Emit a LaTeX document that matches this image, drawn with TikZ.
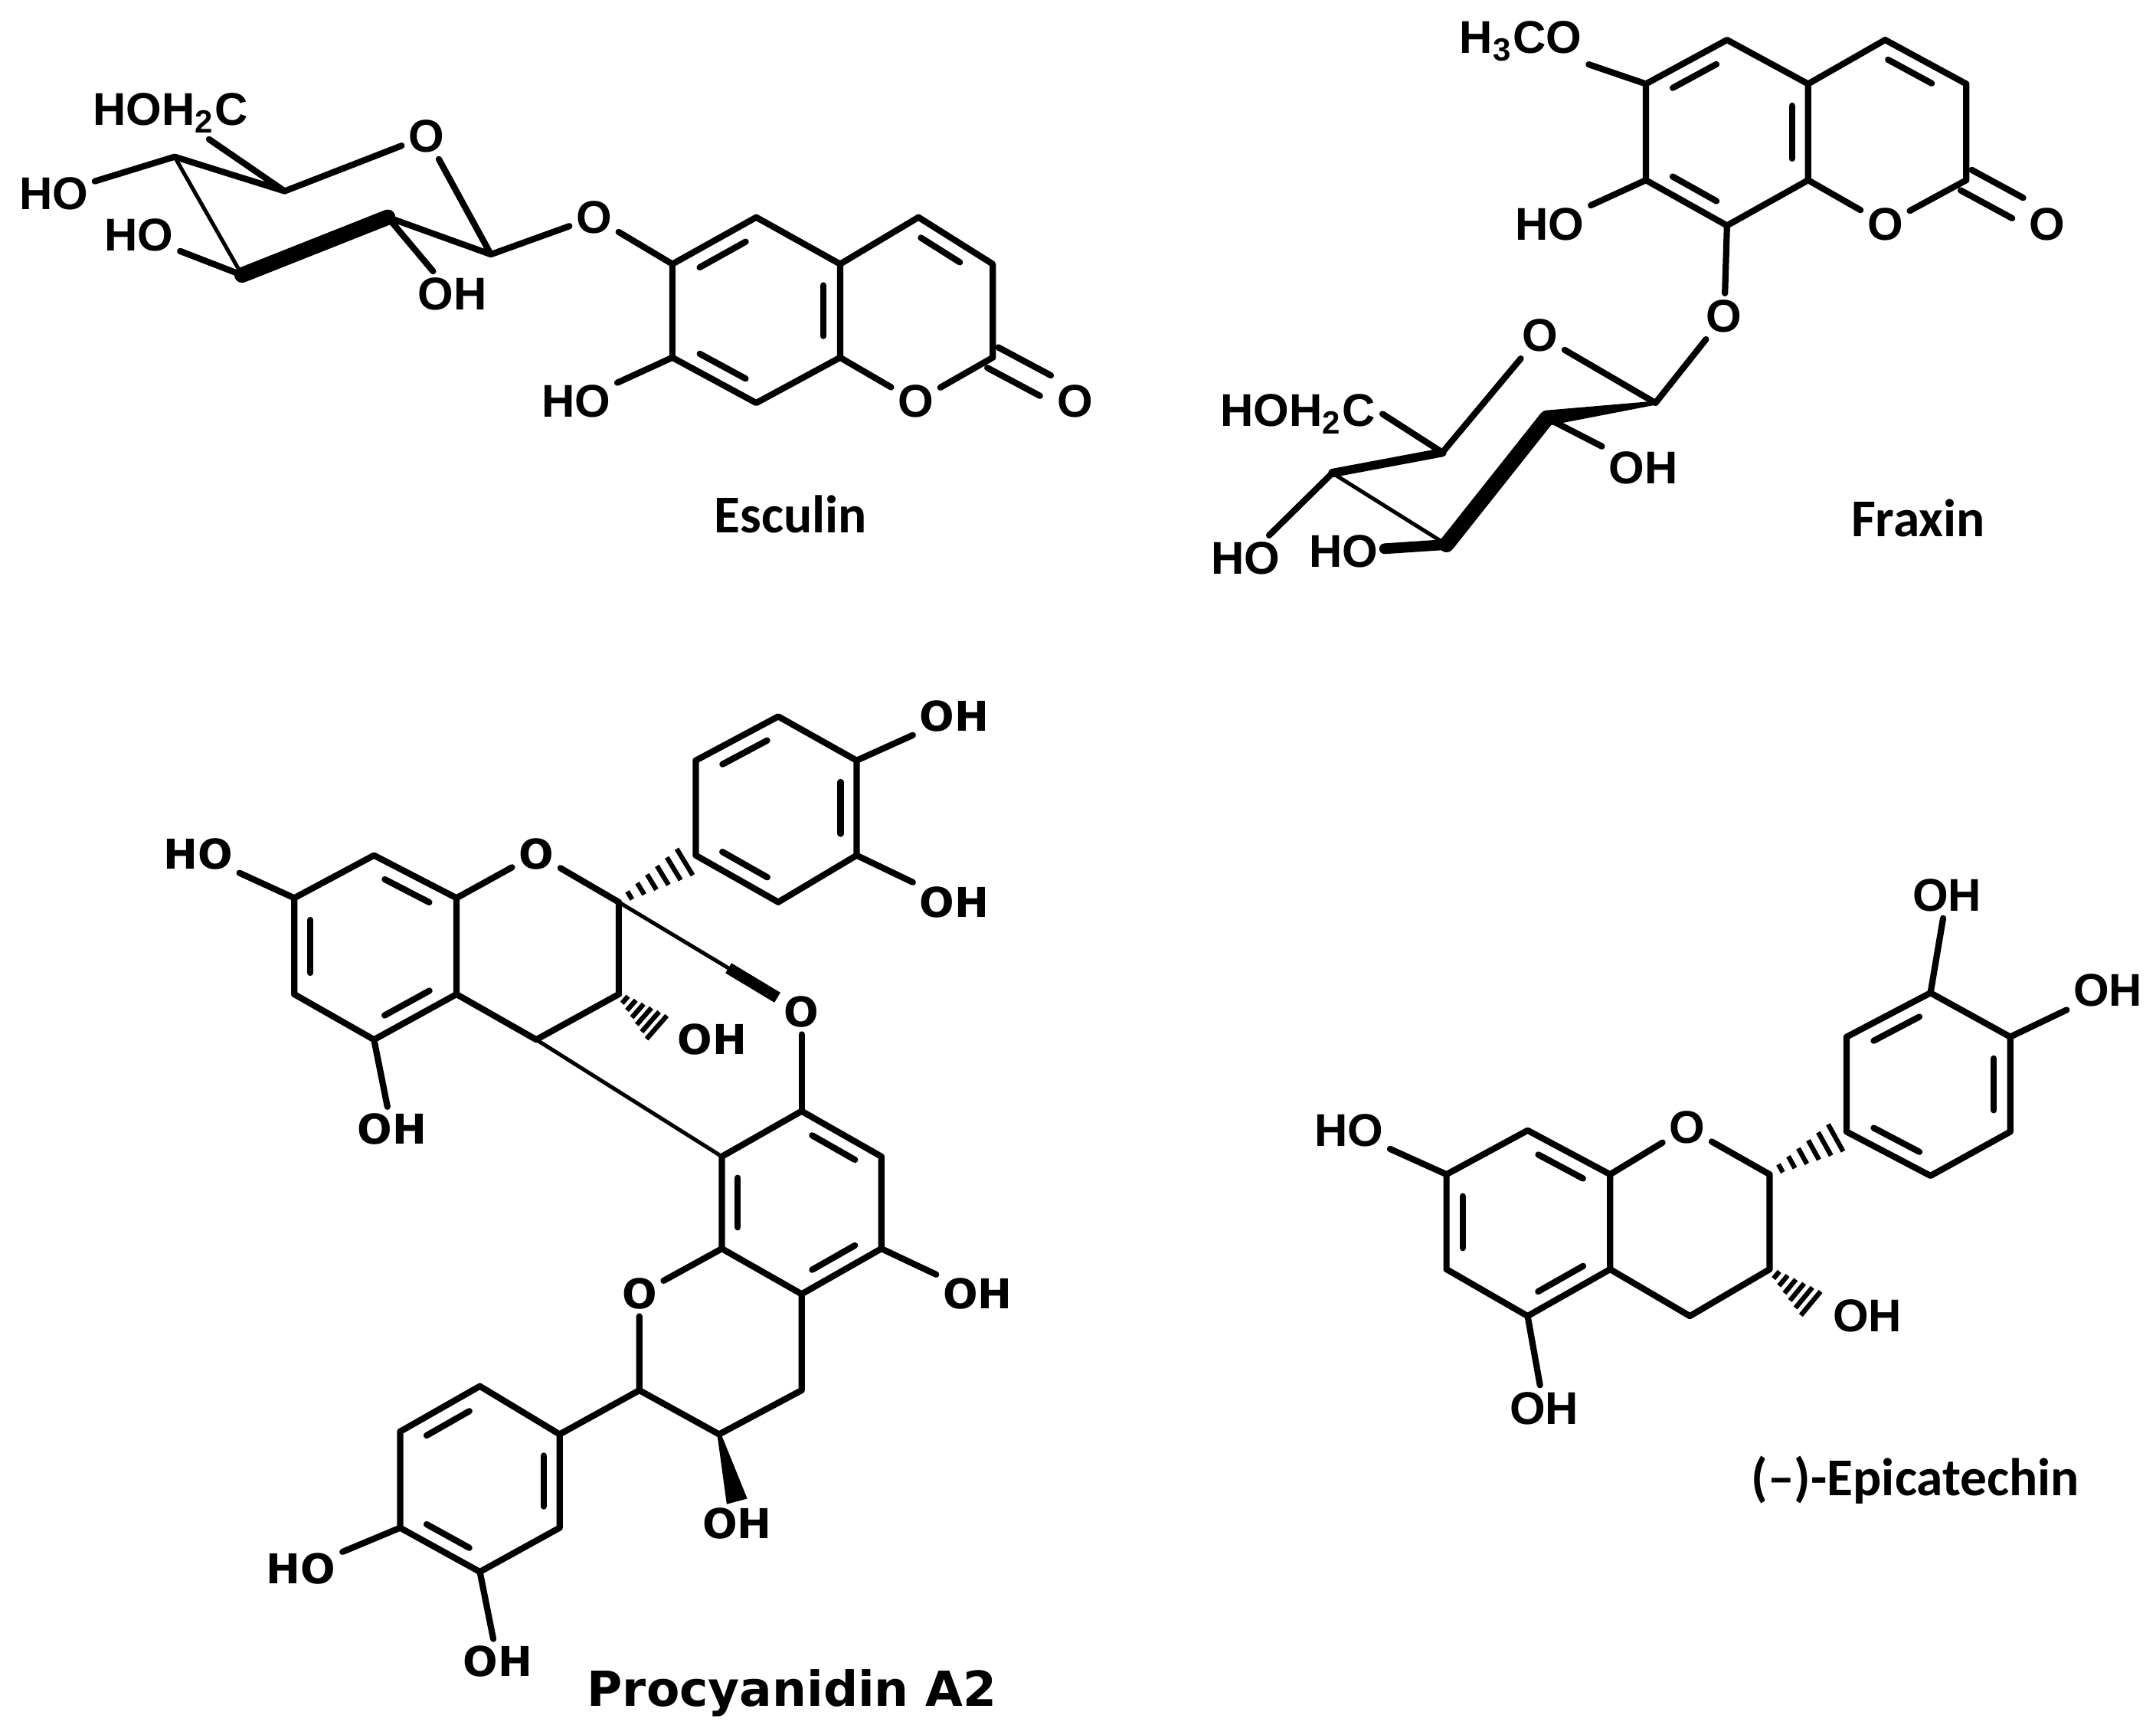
\documentclass[tikz,border=0pt]{standalone}
\usepackage{fontspec}
\setmainfont{Liberation Sans}
\newfontfamily\dvs{DejaVu Sans}
\newfontfamily\crl{Carlito}
\usetikzlibrary{calc}
\tikzset{
 bnd/.style={line width=1.3pt,line cap=round,line join=round},
 atm/.style={font=\fontsize{9.5}{10}\selectfont\bfseries,inner sep=1.2pt},
 atd/.style={font=\dvs\fontsize{8.5}{10}\selectfont\bfseries,inner sep=1.2pt},
 nm/.style={font=\crl\fontsize{11}{13}\selectfont\bfseries,inner sep=0pt},
}
\newcommand{\dbin}[3]{\draw[bnd,shorten >=2.5pt,shorten <=2.5pt] ($(#1)!0.2!(#3)$) -- ($(#2)!0.2!(#3)$);}
\newcommand{\hashbd}[2]{\foreach \i in {1,...,6}{\coordinate (hh) at ($(#1)!\i/7!(#2)$);
 \draw[line width=1pt] ($(hh)!{0.5pt+\i*0.45pt}!90:(#2)$) -- ($(hh)!{0.5pt+\i*0.45pt}!-90:(#2)$);}}
\newcommand{\wedgebd}[3]{\fill ($(#1)!0.4pt!90:(#2)$) -- ($(#2)!#3!-90:(#1)$) -- ($(#2)!#3!90:(#1)$) -- ($(#1)!0.4pt!-90:(#2)$) -- cycle;}
\newcommand{\carbonyl}[2]{\draw[bnd,shorten >=7pt] ($(#1)!2.4pt!90:(#2)$) -- ($(#2)!2.4pt!-90:(#1)$);
 \draw[bnd,shorten >=7pt] ($(#1)!2.4pt!-90:(#2)$) -- ($(#2)!2.4pt!90:(#1)$);}
\begin{document}
\begin{tikzpicture}[x=0.1mm,y=-0.1mm]
\useasboundingbox (0,0) rectangle (1568,1254);
%================ Esculin
\coordinate (eC4) at (127,114); \coordinate (eC5) at (207,139); \coordinate (eC3) at (176,200);
\coordinate (eC2) at (282,158); \coordinate (eC1) at (357,185);
\node[atm] (eHOc) at (124,82) {HOH\textsubscript{2}C};
\node[atm] (eO5) at (310,99) {O};
\node[atm] (eHO4) at (39,141) {HO};
\node[atm] (eHO3) at (101,171) {HO};
\node[atm] (eOH2) at (329,214) {OH};
\node[atm] (eOg) at (432,158) {O};
\coordinate (ea6) at (489,192); \coordinate (ea5) at (550,158); \coordinate (ea4a) at (611,192);
\coordinate (ea4) at (668,158); \coordinate (ea3) at (722,192); \coordinate (ea2) at (722,260);
\coordinate (ea8a) at (611,260); \coordinate (ea8) at (550,293); \coordinate (ea7) at (489,260);
\node[atm] (eO1) at (666,292) {O};
\node[atm] (eOc) at (782,292) {O};
\node[atm] (eHO7) at (419,292) {HO};
\node[nm] (eName) at (575,374) {Esculin};
\coordinate (ecA) at ($(ea5)!0.5!(ea8)$);
\coordinate (ecB) at ($(ea4)!0.5!(ea8a)$);
\draw[bnd] (eHO4) -- (eC4) -- (eC5) -- (eHOc);
\draw[bnd] (eC5) -- (eO5) -- (eC1) -- (eC2) -- (eOH2);
\draw[line width=0.8pt] (eC4) -- (eC3);
\draw[line width=3.2pt,line cap=round] (eC3) -- (eC2);
\draw[bnd] (eC3) -- (eHO3);
\draw[bnd] (eC1) -- (eOg) -- (ea6);
\draw[bnd] (ea6) -- (ea5) -- (ea4a) -- (ea8a) -- (ea8) -- (ea7) -- cycle;
\draw[bnd] (ea4a) -- (ea4) -- (ea3) -- (ea2) -- (eO1) -- (ea8a);
\draw[bnd] (ea7) -- (eHO7);
\dbin{ea6}{ea5}{ecA} \dbin{ea4a}{ea8a}{ecA} \dbin{ea7}{ea8}{ecA} \dbin{ea4}{ea3}{ecB}
\carbonyl{ea2}{eOc}
%================ Fraxin
\coordinate (f6) at (1197,61); \coordinate (f5) at (1256,29); \coordinate (f4a) at (1315,61);
\coordinate (f4) at (1371,29); \coordinate (f3) at (1430,61); \coordinate (f2) at (1430,131);
\coordinate (f8a) at (1315,131); \coordinate (f8) at (1256,164); \coordinate (f7) at (1197,131);
\node[atm] (fMe) at (1106,30) {H\textsubscript{3}CO};
\node[atm] (fHO7) at (1127,163) {HO};
\node[atm] (fO1) at (1371,163) {O};
\node[atm] (fOc) at (1489,163) {O};
\node[atm] (fOg) at (1254,230) {O};
\coordinate (fcA) at ($(f5)!0.5!(f8)$); \coordinate (fcB) at ($(f4)!0.5!(f8a)$);
\draw[bnd] (f6) -- (f5) -- (f4a) -- (f8a) -- (f8) -- (f7) -- cycle;
\draw[bnd] (f4a) -- (f4) -- (f3) -- (f2) -- (fO1) -- (f8a);
\draw[bnd] (fMe) -- (f6); \draw[bnd] (fHO7) -- (f7); \draw[bnd] (f8) -- (fOg);
\dbin{f6}{f5}{fcA} \dbin{f4a}{f8a}{fcA} \dbin{f7}{f8}{fcA} \dbin{f4}{f3}{fcB}
\carbonyl{f2}{fOc}
\coordinate (s1) at (1204,293); \coordinate (s2) at (1125,304); \coordinate (s5) at (1049,329);
\coordinate (s4) at (969,344); \coordinate (s3) at (1052,396);
\node[atm] (fO5) at (1120,244) {O};
\node[atm] (fOH2) at (1195,340) {OH};
\node[atm] (fHOc) at (944,301) {HOH\textsubscript{2}C};
\node[atm] (fHO4) at (906,406) {HO};
\node[atm] (fHO3) at (977,401) {HO};
\node[nm] (fName) at (1395,377) {Fraxin};
\draw[bnd] (fOg) -- (s1) -- (fO5) -- (s5);
\draw[bnd] (s5) -- (fHOc.east);
\draw[line width=1.8pt,line cap=round] (s5) -- (s4);
\draw[line width=0.8pt] (s4) -- (s3);
\draw[line width=3.2pt,line cap=round] (s3) -- (s2);
\wedgebd{s1}{s2}{1.6pt}
\draw[bnd] (s2) -- (fOH2);
\draw[bnd] (s4) -- (fHO4);
\draw[line width=2.2pt,line cap=round] (s3) -- (fHO3);
%================ Procyanidin A2
\coordinate (a7) at (214,653); \coordinate (a8) at (272,622); \coordinate (a8a) at (332,653);
\coordinate (a4a) at (332,723); \coordinate (a5) at (272,756); \coordinate (a6) at (214,723);
\coordinate (c2) at (450,656); \coordinate (c3) at (450,723); \coordinate (c4) at (390,756);
\coordinate (b1) at (506,622); \coordinate (b2) at (506,553); \coordinate (b3) at (566,521);
\coordinate (b4) at (623,553); \coordinate (b5) at (623,622); \coordinate (b6) at (566,656);
\node[atd] (pHO7) at (144,621) {HO};
\node[atd] (pOH5) at (285,821) {OH};
\node[atd] (pO1) at (390,621) {O};
\node[atd] (pOH3) at (518,756) {OH};
\node[atd] (pOb) at (583,736) {O};
\node[atd] (pOH4p) at (694,521) {OH};
\node[atd] (pOH3p) at (694,656) {OH};
\coordinate (pcA) at ($(a8)!0.5!(a5)$); \coordinate (pcB) at ($(b1)!0.5!(b4)$);
\draw[bnd] (a7) -- (a8) -- (a8a) -- (a4a) -- (a5) -- (a6) -- cycle;
\dbin{a7}{a6}{pcA} \dbin{a8}{a8a}{pcA} \dbin{a4a}{a5}{pcA}
\draw[bnd] (pHO7) -- (a7); \draw[bnd] (a5) -- (pOH5);
\draw[bnd] (a8a) -- (pO1) -- (c2) -- (c3) -- (c4) -- (a4a);
\draw[bnd] (b1) -- (b2) -- (b3) -- (b4) -- (b5) -- (b6) -- cycle;
\dbin{b2}{b3}{pcB} \dbin{b4}{b5}{pcB} \dbin{b6}{b1}{pcB}
\draw[bnd] (b4) -- (pOH4p); \draw[bnd] (b5) -- (pOH3p);
\hashbd{c2}{b1}
\coordinate (hz) at ($(c3)!0.85!(pOH3.west)$);
\hashbd{c3}{hz}
\draw[line width=0.8pt] (c2) -- ($(c2)!0.6!(pOb)$);
\draw[line width=2.4pt] ($(c2)!0.6!(pOb)$) -- (pOb);
\coordinate (d8) at (525,841); \coordinate (d7) at (583,808); \coordinate (d6) at (641,841);
\coordinate (d5) at (641,908); \coordinate (d4a) at (583,941); \coordinate (d8a) at (525,908);
\coordinate (e2) at (465,1011); \coordinate (e3) at (523,1043); \coordinate (e4) at (583,1011);
\coordinate (g1) at (407,1043); \coordinate (g2) at (407,1111); \coordinate (g3) at (349,1143);
\coordinate (g4) at (291,1111); \coordinate (g5) at (291,1041); \coordinate (g6) at (349,1008);
\node[atd] (pOH5b) at (711,941) {OH};
\node[atd] (pO1b) at (465,941) {O};
\node[atd] (pOH3b) at (536,1108) {OH};
\node[atd] (pHO4g) at (219,1141) {HO};
\node[atd] (pOH3g) at (362,1208) {OH};
\node[nm,font=\dvs\fontsize{10}{12}\selectfont\bfseries] (pName) at (576,1231) {Procyanidin A2};
\draw[line width=0.8pt] (c4) -- (d8);
\coordinate (pcD) at ($(d8)!0.5!(d5)$); \coordinate (pcG) at ($(g1)!0.5!(g4)$);
\draw[bnd] (d8) -- (d7) -- (d6) -- (d5) -- (d4a) -- (d8a) -- cycle;
\dbin{d7}{d6}{pcD} \dbin{d5}{d4a}{pcD} \dbin{d8a}{d8}{pcD}
\draw[bnd] (d7) -- (pOb); \draw[bnd] (d5) -- (pOH5b);
\draw[bnd] (d8a) -- (pO1b) -- (e2) -- (e3) -- (e4) -- (d4a);
\draw[bnd] (e2) -- (g1);
\draw[bnd] (g1) -- (g2) -- (g3) -- (g4) -- (g5) -- (g6) -- cycle;
\dbin{g1}{g2}{pcG} \dbin{g3}{g4}{pcG} \dbin{g5}{g6}{pcG}
\draw[bnd] (g4) -- (pHO4g); \draw[bnd] (g3) -- (pOH3g);
\wedgebd{e3}{pOH3b.north}{2.2pt}
%================ Epicatechin
\coordinate (k7) at (1052,854); \coordinate (k8) at (1111,822); \coordinate (k8a) at (1171,854);
\coordinate (k4a) at (1171,923); \coordinate (k5) at (1111,957); \coordinate (k6) at (1052,923);
\coordinate (k2) at (1287,854); \coordinate (k3) at (1287,923); \coordinate (k4) at (1229,957);
\coordinate (m1) at (1343,823); \coordinate (m2) at (1343,754); \coordinate (m3) at (1404,722);
\coordinate (m4) at (1462,754); \coordinate (m5) at (1462,823); \coordinate (m6) at (1404,855);
\node[atm] (kHO7) at (981,822) {HO};
\node[atm] (kOH5) at (1123,1024) {OH};
\node[atm] (kO1) at (1227,820) {O};
\node[atm] (kOH3) at (1358,957) {OH};
\node[atm] (kOHt) at (1416,651) {OH};
\node[atm] (kOHr) at (1533,720) {OH};
\node[nm] (kName) at (1393,1076) {(–)-Epicatechin};
\coordinate (kcA) at ($(k8)!0.5!(k5)$); \coordinate (kcB) at ($(m1)!0.5!(m4)$);
\draw[bnd] (k7) -- (k8) -- (k8a) -- (k4a) -- (k5) -- (k6) -- cycle;
\dbin{k7}{k6}{kcA} \dbin{k8}{k8a}{kcA} \dbin{k4a}{k5}{kcA}
\draw[bnd] (kHO7) -- (k7); \draw[bnd] (k5) -- (kOH5);
\draw[bnd] (k8a) -- (kO1) -- (k2) -- (k3) -- (k4) -- (k4a);
\draw[bnd] (m1) -- (m2) -- (m3) -- (m4) -- (m5) -- (m6) -- cycle;
\dbin{m2}{m3}{kcB} \dbin{m4}{m5}{kcB} \dbin{m6}{m1}{kcB}
\draw[bnd] (m3) -- (kOHt); \draw[bnd] (m4) -- (kOHr);
\hashbd{k2}{m1}
\coordinate (kz) at ($(k3)!0.85!(kOH3.west)$);
\hashbd{k3}{kz}
\end{tikzpicture}
\end{document}
